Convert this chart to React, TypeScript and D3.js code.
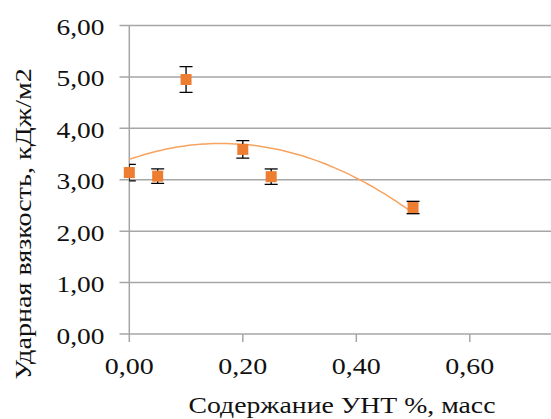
import React, { useLayoutEffect, useRef, useState } from 'react';
import * as d3 from 'd3';

// содержание УНТ, % масс
const xValues = [0, 0.05, 0.1, 0.2, 0.25, 0.5];
// ударная вязкость, кДж/м2
const yValues = [3.14, 3.07, 4.95, 3.59, 3.06, 2.46];
// погрешность (±)
const yErrors = [0.16, 0.14, 0.25, 0.17, 0.15, 0.12];
// полиномиальная линия тренда 2-й степени: a + b x + c x^2
const trendCoef = [3.396, 3.833, -11.84];
const xTicks = [0, 0.2, 0.4, 0.6];
const yTicks = [0, 1, 2, 3, 4, 5, 6];

const W = 551;
const H = 419;
const fmt = (v: number) => v.toFixed(2).replace('.', ',');

// текст, растянутый по горизонтали до нужной ширины (как в исходной картинке)
function WideText({ x, y, width, size, anchor, rotate = 0, children }: any) {
  const ref = useRef<SVGTextElement>(null);
  const [sx, setSx] = useState(1);
  useLayoutEffect(() => {
    if (ref.current) {
      const w = ref.current.getComputedTextLength();
      if (w > 0) setSx(width / w);
    }
  }, [width, children]);
  return (
    <g transform={`translate(${x},${y}) rotate(${rotate}) scale(${sx},1)`}>
      <text ref={ref} textAnchor={anchor} fontSize={size} fill="#111"
        style={{ fontFamily: 'Liberation Serif' }}>{children}</text>
    </g>
  );
}

export default function App() {
  const x = d3.scaleLinear().domain([0, 0.8]).range([129.3, 583.3]);
  const y = d3.scaleLinear().domain([0, 6]).range([334, 25.5]);

  const trendPts = d3.range(0, 0.5001, 0.01).map(t => [t, trendCoef[0] + trendCoef[1] * t + trendCoef[2] * t * t]);
  const trendLine = d3.line<number[]>()
    .x(d => x(d[0]))
    .y(d => y(d[1]))
    .curve(d3.curveMonotoneX);

  const grid = '#a6a6a6';
  const left = x(0);

  return (
    <svg width={W} height={H} style={{ position: 'absolute', left: 0, top: 0, background: '#fff' }}>
      <defs>
        <clipPath id="plot">
          <rect x={left} y={0} width={W - left} height={H} />
        </clipPath>
      </defs>
      {/* горизонтальная сетка */}
      {yTicks.map(t => (
        <line key={'g' + t} x1={119.5} x2={W} y1={y(t)} y2={y(t)} stroke={grid} strokeWidth={1.5} />
      ))}
      {/* ось Y */}
      <line x1={left} x2={left} y1={y(6)} y2={y(0) + 8} stroke={grid} strokeWidth={1.5} />
      {xTicks.filter(t => t > 0).map(t => (
        <line key={'xt' + t} x1={x(t)} x2={x(t)} y1={y(0)} y2={y(0) + 8} stroke={grid} strokeWidth={1.5} />
      ))}
      {/* подписи Y */}
      {yTicks.map(t => (
        <WideText key={'yl' + t} x={104.5} y={y(t) + 9.5} anchor="end" size={22.5} width={48}>{fmt(t)}</WideText>
      ))}
      {/* подписи X */}
      {xTicks.map(t => (
        <WideText key={'xl' + t} x={x(t)} y={374} anchor="middle" size={22.5} width={49}>{fmt(t)}</WideText>
      ))}
      {/* линия тренда */}
      <path d={trendLine(trendPts) || ''} fill="none" stroke="#f6a35f" strokeWidth={1.5} />
      {/* погрешности */}
      <g clipPath="url(#plot)" stroke="#000" strokeWidth={1.3}>
        {xValues.map((xv, i) => {
          const cx = x(xv);
          const y1 = y(yValues[i] + yErrors[i]);
          const y2 = y(yValues[i] - yErrors[i]);
          return (
            <g key={'e' + i}>
              <line x1={cx} x2={cx} y1={y1} y2={y2} />
              <line x1={cx - 6.5} x2={cx + 6.5} y1={y1} y2={y1} />
              <line x1={cx - 6.5} x2={cx + 6.5} y1={y2} y2={y2} />
            </g>
          );
        })}
      </g>
      {/* маркеры */}
      {xValues.map((xv, i) => (
        <rect key={'m' + i} x={x(xv) - 5.5} y={y(yValues[i]) - 5.5} width={11} height={11} fill="#ed7d31" />
      ))}
      {/* заголовки осей */}
      <WideText x={342} y={413} anchor="middle" size={24} width={307}>Содержание УНТ %, масс</WideText>
      <WideText x={31} y={224} rotate={-90} anchor="middle" size={24} width={312}>Ударная вязкость, кДж/м2</WideText>
    </svg>
  );
}
